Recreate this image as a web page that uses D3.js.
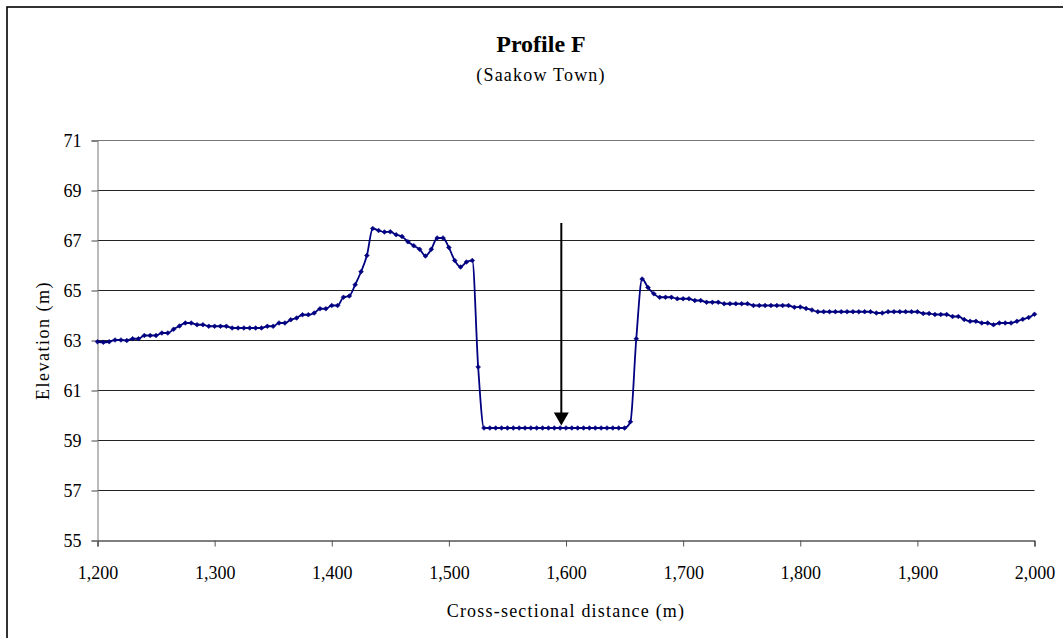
<!DOCTYPE html>
<html>
<head>
	<meta charset="utf-8">
	<script src="https://cdn.jsdelivr.net/npm/d3@7/dist/d3.min.js"></script>
	<title>Profile F</title>
	<style type="text/css">
		body { margin: 0; background: #fff; }
	</style>
</head>
<body>
	<script>
		// cross-sectional distance (m)
		var distance = [
			1200,1205,1210,1215,1220,1225,1230,1235,1240,1245,1250,1255,1260,1265,1270,1275,1280,1285,1290,1295,
			1300,1305,1310,1315,1320,1325,1330,1335,1340,1345,1350,1355,1360,1365,1370,1375,1380,1385,1390,1395,
			1400,1405,1410,1415,1420,1425,1430,1435,1440,1445,1450,1455,1460,1465,1470,1475,1480,1485,1490,1495,
			1500,1505,1510,1515,1520,1525,1530,1535,1540,1545,1550,1555,1560,1565,1570,1575,1580,1585,1590,1595,
			1600,1605,1610,1615,1620,1625,1630,1635,1640,1645,1650,1655,1660,1665,1670,1675,1680,1685,1690,1695,
			1700,1705,1710,1715,1720,1725,1730,1735,1740,1745,1750,1755,1760,1765,1770,1775,1780,1785,1790,1795,
			1800,1805,1810,1815,1820,1825,1830,1835,1840,1845,1850,1855,1860,1865,1870,1875,1880,1885,1890,1895,
			1900,1905,1910,1915,1920,1925,1930,1935,1940,1945,1950,1955,1960,1965,1970,1975,1980,1985,1990,1995,
			2000
		];

		// elevation (m)
		var elevation = [
			62.95,62.93,62.95,63.02,63.02,63.00,63.07,63.07,63.20,63.20,63.20,63.30,63.30,63.45,63.58,63.70,63.70,63.63,63.63,63.57,
			63.57,63.57,63.57,63.50,63.50,63.50,63.50,63.50,63.50,63.57,63.57,63.70,63.70,63.83,63.90,64.03,64.03,64.10,64.27,64.27,
			64.40,64.40,64.73,64.78,65.23,65.75,66.40,67.48,67.40,67.34,67.35,67.23,67.16,66.95,66.79,66.65,66.38,66.65,67.10,67.10,
			66.72,66.20,65.94,66.14,66.20,61.94,59.50,59.50,59.50,59.50,59.50,59.50,59.50,59.50,59.50,59.50,59.50,59.50,59.50,59.50,
			59.50,59.50,59.50,59.50,59.50,59.50,59.50,59.50,59.50,59.50,59.50,59.75,63.07,65.46,65.12,64.87,64.73,64.73,64.73,64.67,
			64.67,64.67,64.60,64.60,64.53,64.53,64.53,64.47,64.47,64.47,64.47,64.47,64.40,64.40,64.40,64.40,64.40,64.40,64.40,64.33,
			64.34,64.28,64.22,64.15,64.15,64.15,64.15,64.15,64.15,64.15,64.15,64.15,64.15,64.10,64.10,64.15,64.15,64.15,64.15,64.15,
			64.15,64.08,64.08,64.04,64.04,64.04,63.96,63.96,63.84,63.77,63.77,63.70,63.70,63.63,63.70,63.70,63.70,63.77,63.85,63.92,
			64.05
		];

		var xTicks = [1200, 1300, 1400, 1500, 1600, 1700, 1800, 1900, 2000];
		var yTicks = [55, 57, 59, 61, 63, 65, 67, 69, 71];

		// arrow marking the channel
		var arrowX = 1596;
		var arrowTop = 67.7;
		var arrowTip = 59.6;

		var serif = '"Liberation Serif", "DejaVu Serif", "Times New Roman", serif';

		var svgWidth = 1063;
		var svgHeight = 638;

		var svg = d3.select('body')
				.append('svg')
				.attr('width', svgWidth)
				.attr('height', svgHeight)
				.style('font-family', serif);

		// chart border (runs off the right and bottom edges)
		svg.append('rect')
			.attr('x', 7)
			.attr('y', 7)
			.attr('width', svgWidth + 10)
			.attr('height', svgHeight + 10)
			.attr('fill', 'none')
			.attr('stroke', '#000')
			.attr('stroke-width', 1.6);

		var xScale = d3.scaleLinear()
				.domain([1200, 2000])
				.range([97.5, 1034.5]);

		var yScale = d3.scaleLinear()
				.domain([55, 71])
				.range([540.5, 140.5]);

		// horizontal gridlines
		svg.append('g')
			.selectAll('line')
			.data(yTicks.slice(1))
			.enter()
			.append('line')
				.attr('x1', xScale(1200))
				.attr('x2', xScale(2000))
				.attr('y1', function (d) { return yScale(d); })
				.attr('y2', function (d) { return yScale(d); })
				.attr('stroke', function (d) { return d == 71 ? '#777' : '#222'; })
				.attr('stroke-width', 1);

		var xAxis = svg.append('g')
			.attr('transform', 'translate(0,' + yScale(55) + ')')
			.call(d3.axisBottom(xScale)
				.tickValues(xTicks)
				.tickFormat(d3.format(','))
				.tickSize(6)
				.tickPadding(16));
		xAxis.attr('font-family', null).attr('font-size', null);
		xAxis.select('.domain').attr('stroke', '#000');
		xAxis.selectAll('.tick line').attr('stroke', '#555');
		xAxis.selectAll('text')
			.style('font-family', serif)
			.style('font-size', '18px')
			.attr('fill', '#000')
			.attr('dy', '0.9em');

		var yAxis = svg.append('g')
			.attr('transform', 'translate(' + xScale(1200) + ',0)')
			.call(d3.axisLeft(yScale)
				.tickValues(yTicks)
				.tickSize(6)
				.tickPadding(10));
		yAxis.attr('font-family', null).attr('font-size', null);
		yAxis.select('.domain').attr('stroke', '#777');
		yAxis.selectAll('.tick line').attr('stroke', '#444');
		yAxis.selectAll('text')
			.style('font-family', serif)
			.style('font-size', '18px')
			.attr('fill', '#000');

		var points = distance.map(function (d, i) { return [d, elevation[i]]; });

		var line = d3.line()
				.x(function (d) { return xScale(d[0]); })
				.y(function (d) { return yScale(d[1]); })
				.curve(d3.curveMonotoneX);

		svg.append('path')
			.datum(points)
			.attr('d', line)
			.attr('fill', 'none')
			.attr('stroke', '#000080')
			.attr('stroke-width', 1.8);

		var diamond = d3.symbol().type(d3.symbolSquare).size(11);

		svg.append('g')
			.selectAll('path')
			.data(points)
			.enter()
			.append('path')
				.attr('d', diamond)
				.attr('transform', function (d) {
					return 'translate(' + xScale(d[0]) + ',' + yScale(d[1]) + ') rotate(45)';
				})
				.attr('fill', '#000080')
				.attr('stroke', '#000080')
				.attr('stroke-width', 0.6);

		// arrow
		var ax = xScale(arrowX);
		var tipY = yScale(arrowTip);
		svg.append('line')
			.attr('x1', ax)
			.attr('x2', ax)
			.attr('y1', yScale(arrowTop))
			.attr('y2', tipY - 10)
			.attr('stroke', '#000')
			.attr('stroke-width', 2);
		svg.append('path')
			.attr('d', 'M' + (ax - 7.5) + ',' + (tipY - 13) + 'L' + (ax + 7.5) + ',' + (tipY - 13) + 'L' + ax + ',' + tipY + 'Z')
			.attr('fill', '#000');

		// titles
		svg.append('text')
			.attr('x', 541)
			.attr('y', 52)
			.attr('text-anchor', 'middle')
			.style('font-family', serif)
			.style('font-size', '24px')
			.style('font-weight', 'bold')
			.text('Profile F');

		svg.append('text')
			.attr('x', 541)
			.attr('y', 81)
			.attr('text-anchor', 'middle')
			.style('font-family', serif)
			.style('font-size', '18px')
			.style('letter-spacing', '1.2px')
			.text('(Saakow Town)');

		svg.append('text')
			.attr('x', (xScale(1200) + xScale(2000)) / 2)
			.attr('y', 617)
			.attr('text-anchor', 'middle')
			.style('font-family', serif)
			.style('font-size', '18px')
			.style('letter-spacing', '1.2px')
			.text('Cross-sectional distance (m)');

		svg.append('text')
			.attr('transform', 'translate(49,' + ((yScale(55) + yScale(71)) / 2) + ') rotate(-90)')
			.attr('text-anchor', 'middle')
			.style('font-family', serif)
			.style('font-size', '18px')
			.style('letter-spacing', '1.5px')
			.text('Elevation (m)');
	</script>
</body>
</html>
